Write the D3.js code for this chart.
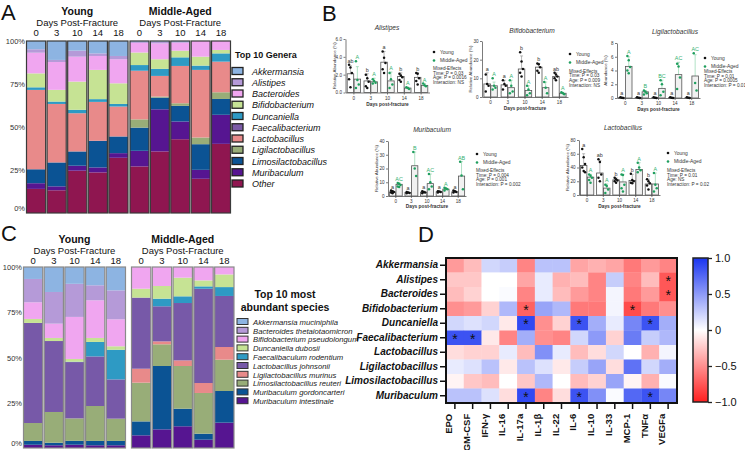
<!DOCTYPE html>
<html><head><meta charset="utf-8">
<script src="https://cdn.jsdelivr.net/npm/d3@7"></script>
<style>body{margin:0;background:#fff;} svg{display:block;font-family:"Liberation Sans",Arial,Helvetica,sans-serif;}</style>
</head><body><svg id="c" width="745" height="450"></svg>
<script>
// ---------------- DATA ----------------
const days = ["0","3","10","14","18"];
const groups = ["Young","Middle-Aged"];

// Panel A: genera (legend order), shares (%) per sample
const genera = ["Akkermansia","Alistipes","Bacteroides","Bifidobacterium","Duncaniella","Faecalibacterium","Lactobacillus","Ligilactobacillus","Limosilactobacillus","Muribaculum","Other"];
const generaColors = ["#8db4e2","#b59ad8","#f0a6f0","#c6e394","#2e9ac4","#7b5ba6","#e88a8a","#98ad78","#0b5394","#561591","#8f1650"];
const youngGenera = [
  [4.8,2.0,12.0,8.1,1.5,0,46.1,0,8.1,3.3,14.0],
  [11.0,1.2,16.2,6.8,1.4,0,34.0,0,13.9,2.3,13.2],
  [5.6,3.5,14.5,16.4,2.0,0,22.2,0,8.3,2.9,24.6],
  [7.2,1.5,8.1,17.0,1.6,0,22.6,0,15.5,2.9,23.6],
  [8.7,1.9,14.0,12.0,1.5,0,17.4,0,9.7,2.7,32.1]];
const middleGenera = [
  [0.5,0.6,5.6,7.3,3.3,0,28.3,4.8,13.5,9.1,27.1],
  [0.4,1.0,9.2,5.6,4.1,0,12.0,0.6,6.8,24.5,35.8],
  [0.5,0.5,4.6,3.9,5.0,0,21.7,1.5,9.1,10.3,42.9],
  [0,0,9.1,5.2,2.5,0,39.3,3.9,14.9,5.2,19.9],
  [0,0,5.2,2.0,4.8,0,17.8,3.9,9.2,16.9,40.2]];

// Panel C: species
const species = ["Akkermansia muciniphila","Bacteroides thetaiotaomicron","Bifidobacterium pseudolongum","Duncaniella dubosii","Faecalibaculum rodentium","Lactobacillus johnsonii","Ligilactobacillus murinus","Limosilactobacillus reuteri","Muribaculum gordoncarteri","Muribaculum intestinale"];
const speciesColors = ["#8db4e2","#b59ad8","#f0a6f0","#c6e394","#2e9ac4","#7759a8","#e88a8a","#98ad78","#0b5394","#561591"];
const youngSpecies = [
  [6.6,12.9,9.2,2.2,0,55.3,0,9.9,2.1,1.8],
  [13.8,17.5,7.9,1.7,0,39.2,0,17.0,1.4,1.5],
  [9.2,18.1,23.0,1.5,0.2,30.8,0,12.3,2.1,1.8],
  [10.1,8.3,20.8,2.2,8.0,27.4,0,19.3,2.4,1.5],
  [12.9,16.0,14.9,1.9,16.4,21.7,0,12.3,2.4,1.5]];
const middleSpecies = [
  [0,0,12.0,4.9,0,39.3,7.7,21.4,7.7,7.0],
  [0,0,10.5,7.0,4.2,19.4,1.6,12.0,35.0,10.3],
  [0,0,5.9,10.3,3.7,31.7,3.1,23.6,9.7,12.0],
  [0,0,7.4,3.3,1.3,52.1,5.5,22.5,3.3,4.6],
  [0,0,4.1,7.0,4.9,28.2,7.0,17.3,17.5,14.0]];
const pctTicks = [0,0.25,0.5,0.75,1];

// Panel B: per-genus bar panels (means, upper error, points, letters)
const bTitles = ["Alistipes","Bifidobacterium","Ligilactobacillus","Muribaculum","Lactobacillus"];
const bMax = [6,30,8,40,80];
const bTicks = [[0,2,4,6],[0,10,20,30],[0,2,4,6,8],[0,10,20,30,40],[0,20,40,60,80]];
const bYoungMean = [[2.1,1.3,3.4,1.8,1.7],[7,6.5,15,16,11],[0.05,0.05,0.05,0.05,0.05],[3,2.5,2.8,3,3],[43,32,22,21,16]];
const bYoungErr  = [[3.0,2.1,4.6,2.2,2.2],[13,9,22,18,13],[0.1,0.1,0.1,0.1,0.1],[4,3,3.5,3.5,4],[60,50,25,30,23]];
const bMidMean   = [[1.5,1.2,1.3,0.5,0.8],[6,5,3.5,5,2],[4.6,0.9,1.4,3.4,3.2],[8.5,22,9,5,14.5],[26,10,19,37,16]];
const bMidErr    = [[2.9,1.6,2.3,0.6,1.0],[8,9,6,8,2.5],[6.0,1.1,2.6,5.2,6.3],[9.5,32,16,6,25],[30,16,30,47,32]];
const bYoungPts = [
  [[3.1,2.8,2.2,1.5,0.6],[2.0,1.6,1.2,0.7,0.5],[4.6,3.9,3.3,2.6,2.2],[2.1,1.9,1.7,1.4,1.2],[2.2,2.1,1.6,1.3,0.9]],
  [[12,7,6,3],[9,7,6,4],[24,19,15,13,11],[18,17.5,16,14,13],[13,12,11,10,9]],
  [[0.1,0.05,0],[0.1,0.05,0],[0.1,0.05,0],[0.1,0.05,0],[0.1,0.05,0]],
  [[4,3.5,3,2.5,2],[3,2.5,2.2,2],[3.5,3,2.5,2],[3.5,3.2,3,2.5],[4,3.5,3,2.5]],
  [[67,55,45,40,35,33],[52,48,30,25,20],[25,23,21,20,18],[31,22,20,18,17],[23,20,17,14,8]]];
const bMidPts = [
  [[3.5,1.4,0.9,0.5],[1.5,1.3,1.1,1.0],[2.2,1.5,0.9,0.5],[0.6,0.5,0.4],[1.0,0.8,0.7]],
  [[10,6,5,4],[9,6,3,2],[6,4,2,1],[8,5,2],[2.5,2,1.5]],
  [[6.1,5.5,4.5,4,3.6],[1.1,0.9,0.7,0.5],[2.6,2.0,0.9,0.4],[5.0,4.6,3.0,1.3],[6.5,2.2,1.1]],
  [[9.5,9,8,7,6.5],[32,20,14.5],[16,10,7,5],[6,5.5,5,4],[25,15,5]],
  [[30,28,25,22,18],[15,13,8,3],[30,29,15,10,5],[47,40,36,33],[32,15,10,5]]];
const bYoungLetters = [["ab","b","a","b","b"],["a","a","b","b","ab"],["a","a","a","a","a"],["a","a","a","a","a"],["a","ab","b","b","b"]];
const bMidLetters = [["A","A","A","A","A"],["A","A","A","A","A"],["A","B","BC","AC","AC"],["AC","B","AC","A","AB"],["A","A","A","A","A"]];
const bStats = [
  ["Mixed-Effects","Time: P = 0.03","Age: P = 0.0016","Interaction: NS"],
  ["Mixed-Effects","Time: P = 0.03","Age: P = 0.009","Interaction: NS"],
  ["Mixed-Effects","Time: P = 0.01","Age: P = 0.0005","Interaction: P = 0.01"],
  ["Mixed-Effects","Time: P = 0.004","Age: P = 0.001","Interaction: P = 0.002"],
  ["Mixed-Effects","Time: P = 0.01","Age: NS","Interaction: P = 0.02"]];
const bYLabels = ["Relative Abundance (%)","Relative Abundance (%)","Abundance (%)","Relative Abundance (%)","Relative Abundance (%)"];

// Panel D: correlation heatmap
const hmGenera = ["Akkermansia","Alistipes","Bacteroides","Bifidobacterium","Duncaniella","Faecalibacterium","Lactobacillus","Ligilactobacillus","Limosilactobacillus","Muribaculum"];
const cytokines = ["EPO","GM-CSF","IFN-γ","IL-16","IL-17a","IL-1β","IL-22","IL-6","IL-10","IL-33","MCP-1","TNFα","VEGFa"];
const corr = [
  [-0.45,-0.3,0.2,0.25,-0.55,0.3,0.3,-0.4,-0.35,-0.4,-0.6,-0.45,-0.55],
  [-0.25,-0.25,0.0,0.0,-0.4,0.1,-0.35,-0.3,-0.55,0.25,-0.55,-0.3,-0.75],
  [-0.3,-0.2,0.0,0.02,-0.55,0.1,-0.3,-0.45,-0.55,0.05,-0.6,-0.45,-0.75],
  [-0.5,-0.45,-0.2,0.35,-0.7,0.45,0.35,-0.6,-0.6,0.05,-0.8,-0.6,-0.5],
  [0.2,0.15,0.2,-0.1,0.9,-0.5,-0.2,0.85,0.4,0.1,0.6,0.85,0.4],
  [0.85,0.85,-0.1,-0.55,0.4,-0.5,-0.55,0.2,0.5,-0.2,0.65,0.25,0.35],
  [-0.15,-0.2,-0.2,0.1,-0.3,0.55,0.1,-0.3,-0.15,0.2,0.0,-0.35,0.05],
  [0.1,0.15,0.3,-0.1,0.3,0.15,-0.1,0.25,0.45,-0.15,0.7,0.2,0.4],
  [-0.05,-0.25,-0.3,0.0,-0.25,0.35,0.0,-0.3,-0.2,0.45,-0.05,-0.35,0.02],
  [0.3,0.3,0.15,-0.15,0.9,-0.55,-0.15,0.85,0.55,0.02,0.75,0.85,0.6]];
const significant = [[1,12],[2,12],[3,4],[3,10],[4,4],[4,7],[4,11],[5,0],[5,1],[9,4],[9,7],[9,11]];
const cbTicks = [1.0,0.5,0,-0.5,-1.0];

// ---------------- DRAW ----------------
const svg = d3.select("#c");
function letter(t,x,y){svg.append("text").attr("x",x).attr("y",y).attr("font-size",22).attr("fill","#111").text(t);}
letter("A",1,20); letter("B",322,21); letter("C",1,241); letter("D",418,242);

function stackPanel(cfg){
  const g = svg.append("g");
  const y = d3.scaleLinear().domain([0,1]).range(cfg.yr);
  const keys = cfg.names.map((d,i)=>i);
  [cfg.young, cfg.middle].forEach((vals,gi)=>{
    const x = d3.scaleBand().domain(days).range(cfg.xr[gi]).paddingInner(0.07);
    const rows = vals.map((v,i)=>{const o={day:days[i]}; keys.forEach(k=>o[k]=v[k]); return o;});
    const st = d3.stack().keys(keys.slice().reverse()).offset(d3.stackOffsetExpand)(rows);
    st.forEach(layer=>{
      g.selectAll(null).data(layer).join("rect")
        .attr("x",d=>x(d.data.day)).attr("width",x.bandwidth())
        .attr("y",d=>y(d[1])).attr("height",d=>Math.max(0,y(d[0])-y(d[1])))
        .attr("fill",cfg.colors[layer.key]);
    });
    g.selectAll(null).data(days).join("rect")
      .attr("x",d=>x(d)).attr("width",x.bandwidth()).attr("y",cfg.yr[1]).attr("height",cfg.yr[0]-cfg.yr[1])
      .attr("fill","none").attr("stroke",cfg.outline).attr("stroke-width",1.2);
    g.selectAll(null).data(days).join("text")
      .attr("x",d=>x(d)+x.bandwidth()/2).attr("y",cfg.dayY).attr("text-anchor","middle")
      .attr("font-size",9.5).attr("fill","#111").text(d=>d);
    const cx = (cfg.xr[gi][0]+cfg.xr[gi][1])/2;
    g.append("text").attr("x",cx).attr("y",cfg.dayY-10).attr("text-anchor","middle").attr("font-size",9.5).attr("fill","#111").text("Days Post-Fracture");
    g.append("text").attr("x",cx).attr("y",cfg.dayY-21).attr("text-anchor","middle").attr("font-size",10.5).attr("font-weight","bold").attr("fill","#111").text(groups[gi]);
  });
  g.selectAll(null).data(pctTicks).join("text")
    .attr("x",cfg.labX).attr("y",d=>y(d)+(d===0?-2:3)).attr("text-anchor","end")
    .attr("font-size",7.5).attr("fill","#333").text(d=>d3.format(".0%")(d));
  return g;
}

const gA = stackPanel({names:genera,colors:generaColors,young:youngGenera,middle:middleGenera,
  xr:[[26.5,128],[130,230.5]], yr:[213,41], dayY:36, labX:25, outline:"#3a3a3a"});
gA.append("text").attr("x",235).attr("y",58).attr("font-size",9).attr("font-weight","bold").attr("fill","#111").text("Top 10 Genera");
gA.selectAll(null).data(genera).join("rect")
  .attr("x",232).attr("y",(d,i)=>67.5+i*11.25).attr("width",11).attr("height",7)
  .attr("fill",(d,i)=>generaColors[i]).attr("stroke","#222").attr("stroke-width",1.3);
gA.selectAll(null).data(genera).join("text")
  .attr("x",252).attr("y",(d,i)=>74.5+i*11.25).attr("font-size",9).attr("font-style","italic").attr("fill","#111").text(d=>d);

const gC = stackPanel({names:species,colors:speciesColors,young:youngSpecies,middle:middleSpecies,
  xr:[[23.5,125.5],[131.5,234]], yr:[448,267], dayY:264, labX:22, outline:"#8a8a8a"});
gC.append("text").attr("x",285).attr("y",298).attr("text-anchor","middle").attr("font-size",10.5).attr("font-weight","bold").attr("fill","#111").text("Top 10 most");
gC.append("text").attr("x",285).attr("y",311).attr("text-anchor","middle").attr("font-size",10.5).attr("font-weight","bold").attr("fill","#111").text("abundant species");
gC.selectAll(null).data(species).join("rect")
  .attr("x",237).attr("y",(d,i)=>318.5+i*8.8).attr("width",11).attr("height",6)
  .attr("fill",(d,i)=>speciesColors[i]).attr("stroke","#333").attr("stroke-width",1);
gC.selectAll(null).data(species).join("text")
  .attr("x",253).attr("y",(d,i)=>324.7+i*8.8).attr("font-size",7.7).attr("font-style","italic").attr("fill","#222").text(d=>d);

// Panel B
const bLayout = [
  {xr:[345.5,429.5], yr:[92.5,39],  title:[387,30],  leg:[434,52], stat:70,  xl:106},
  {xr:[482,568],     yr:[97,41],    title:[532,33],  leg:[570,54], stat:72.5,xl:110},
  {xr:[617,700],     yr:[98,43],    title:[675,34],  leg:[705,58], stat:73,  xl:111},
  {xr:[388,466],     yr:[196,141],  title:[432,132], leg:[477,154],stat:172, xl:208},
  {xr:[579,660],     yr:[195,140],  title:[623,130], leg:[668,153],stat:172, xl:208}];
const green = "#1f9e5e", lightGreen="#8fd4ac";
bLayout.forEach((L,p)=>{
  const g = svg.append("g").attr("fill","#333");
  const x = d3.scaleBand().domain(days).range(L.xr);
  const y = d3.scaleLinear().domain([0,bMax[p]]).range(L.yr);
  const bw = Math.min(6.5, x.bandwidth()*0.4);
  const ya = g.append("g").attr("transform",`translate(${L.xr[0]},0)`)
    .call(d3.axisLeft(y).tickValues(bTicks[p]).tickSize(2).tickSizeOuter(0).tickPadding(1.5));
  const xa = g.append("g").attr("transform",`translate(0,${L.yr[0]})`)
    .call(d3.axisBottom(x).tickSize(2).tickSizeOuter(0).tickPadding(2));
  [ya,xa].forEach(a=>{a.selectAll("text").attr("font-size",4.6).attr("fill","#333").attr("font-family","Liberation Sans, Arial");
    a.selectAll("path,line").attr("stroke","#444").attr("stroke-width",0.7);});
  g.append("text").attr("x",L.title[0]).attr("y",L.title[1]).attr("text-anchor","middle").attr("font-size",6.6).attr("font-style","italic").text(bTitles[p]);
  g.append("text").attr("transform",`translate(${L.xr[0]-10},${(L.yr[0]+L.yr[1])/2}) rotate(-90)`).attr("text-anchor","middle").attr("font-size",4.4).text(bYLabels[p]);
  g.append("text").attr("x",(L.xr[0]+L.xr[1])/2).attr("y",L.xl).attr("text-anchor","middle").attr("font-size",4.8).attr("font-weight","bold").text("Days post-fracture");
  const series = [
    {mean:bYoungMean[p],err:bYoungErr[p],pts:bYoungPts[p],let:bYoungLetters[p],off:-bw-0.2,fill:"#fff",ec:"#9a9a9a",dot:"#111",lc:"#333"},
    {mean:bMidMean[p],err:bMidErr[p],pts:bMidPts[p],let:bMidLetters[p],off:0.2,fill:"#ededed",ec:lightGreen,dot:green,lc:"#34b06f"}];
  series.forEach(s=>{
    days.forEach((d,i)=>{
      const bx = x(d)+x.bandwidth()/2+s.off, cx = bx+bw/2;
      g.append("line").attr("x1",cx).attr("x2",cx).attr("y1",y(s.mean[i])).attr("y2",y(s.err[i])).attr("stroke",s.ec).attr("stroke-width",0.7);
      g.append("line").attr("x1",cx-1.5).attr("x2",cx+1.5).attr("y1",y(s.err[i])).attr("y2",y(s.err[i])).attr("stroke",s.ec).attr("stroke-width",0.7);
      g.append("rect").attr("x",bx).attr("width",bw).attr("y",y(s.mean[i])).attr("height",Math.max(0.6,L.yr[0]-y(s.mean[i])))
        .attr("fill",s.fill).attr("fill-opacity",0.8).attr("stroke","#555").attr("stroke-width",0.8);
      s.pts[i].forEach((v,j)=>{
        g.append("circle").attr("cx",cx+(j%3-1)*1.4).attr("cy",y(v)).attr("r",1.25).attr("fill",s.dot);
      });
      const top = Math.max(s.err[i],d3.max(s.pts[i]));
      g.append("text").attr("x",cx).attr("y",y(top)-2).attr("text-anchor","middle").attr("font-size",5.4).attr("fill",s.lc).text(s.let[i]);
    });
  });
  g.append("circle").attr("cx",L.leg[0]).attr("cy",L.leg[1]).attr("r",1.3).attr("fill","#111");
  g.append("text").attr("x",L.leg[0]+6).attr("y",L.leg[1]+1.7).attr("font-size",4.9).text("Young");
  g.append("circle").attr("cx",L.leg[0]).attr("cy",L.leg[1]+8.5).attr("r",1.3).attr("fill",green);
  g.append("text").attr("x",L.leg[0]+6).attr("y",L.leg[1]+10.2).attr("font-size",4.9).text("Middle-Aged");
  bStats[p].forEach((t,k)=>g.append("text").attr("x",L.leg[0]-1).attr("y",L.stat+k*4.7).attr("font-size",4.7).text(t));
});

// Panel D
const hx = d3.scaleBand().domain(cytokines).range([446,677]);
const hy = d3.scaleBand().domain(hmGenera).range([258,403]);
const color = d3.scaleLinear().domain([-1,0,1]).range(["#ff1f1f","#ffffff","#1a35f0"]);
const gD = svg.append("g");
hmGenera.forEach((gn,r)=>{
  gD.selectAll(null).data(cytokines).join("rect")
    .attr("x",c=>hx(c)).attr("y",hy(gn)).attr("width",hx.bandwidth()+0.3).attr("height",hy.bandwidth()+0.3)
    .attr("fill",(c,ci)=>color(corr[r][ci]));
});
gD.selectAll(null).data(significant).join("text")
  .attr("x",d=>hx(cytokines[d[1]])+hx.bandwidth()/2).attr("y",d=>hy(hmGenera[d[0]])+hy.bandwidth()/2+6)
  .attr("text-anchor","middle").attr("font-size",14).attr("fill","#111").text("*");
gD.append("rect").attr("x",446).attr("y",258).attr("width",231).attr("height",145).attr("fill","none").attr("stroke","#111").attr("stroke-width",2);
const ly = gD.append("g").attr("transform","translate(445,0)").call(d3.axisLeft(hy).tickSize(5).tickSizeOuter(0).tickPadding(2));
ly.select(".domain").remove();
ly.selectAll("line").attr("stroke","#111").attr("stroke-width",1.5);
ly.selectAll("text").attr("font-size",10).attr("font-weight","bold").attr("font-style","italic").attr("fill","#111").attr("font-family","Liberation Sans, Arial");
const lx = gD.append("g").attr("transform","translate(0,404)").call(d3.axisBottom(hx).tickSize(5).tickSizeOuter(0).tickPadding(2));
lx.select(".domain").remove();
lx.selectAll("line").attr("stroke","#111").attr("stroke-width",1.5);
lx.selectAll("text").attr("font-size",9.5).attr("font-weight","bold").attr("fill","#111").attr("font-family","Liberation Sans, Arial")
  .attr("transform","rotate(-90)").attr("text-anchor","end").attr("dx","-0.4em").attr("dy","-0.3em").attr("y",0).attr("x",-6);
// colorbar
const defs = svg.append("defs");
const grad = defs.append("linearGradient").attr("id","cb").attr("x1",0).attr("x2",0).attr("y1",0).attr("y2",1);
[1,0.5,0,-0.5,-1].forEach((v,i)=>grad.append("stop").attr("offset",i/4).attr("stop-color",color(v)));
const cy = d3.scaleLinear().domain([-1,1]).range([402,258]);
gD.append("rect").attr("x",693).attr("y",258).attr("width",15).attr("height",144).attr("fill","url(#cb)").attr("stroke","#222").attr("stroke-width",1.5);
const ca = gD.append("g").attr("transform","translate(708,0)").call(d3.axisRight(cy).tickValues(cbTicks).tickSize(4).tickSizeOuter(0).tickPadding(3).tickFormat(d=>d===0?"0":d3.format(".1f")(d)));
ca.select(".domain").remove();
ca.selectAll("line").attr("stroke","#222").attr("stroke-width",1.3);
ca.selectAll("text").attr("font-size",11).attr("fill","#111").attr("font-family","Liberation Sans, Arial");
</script></body></html>
